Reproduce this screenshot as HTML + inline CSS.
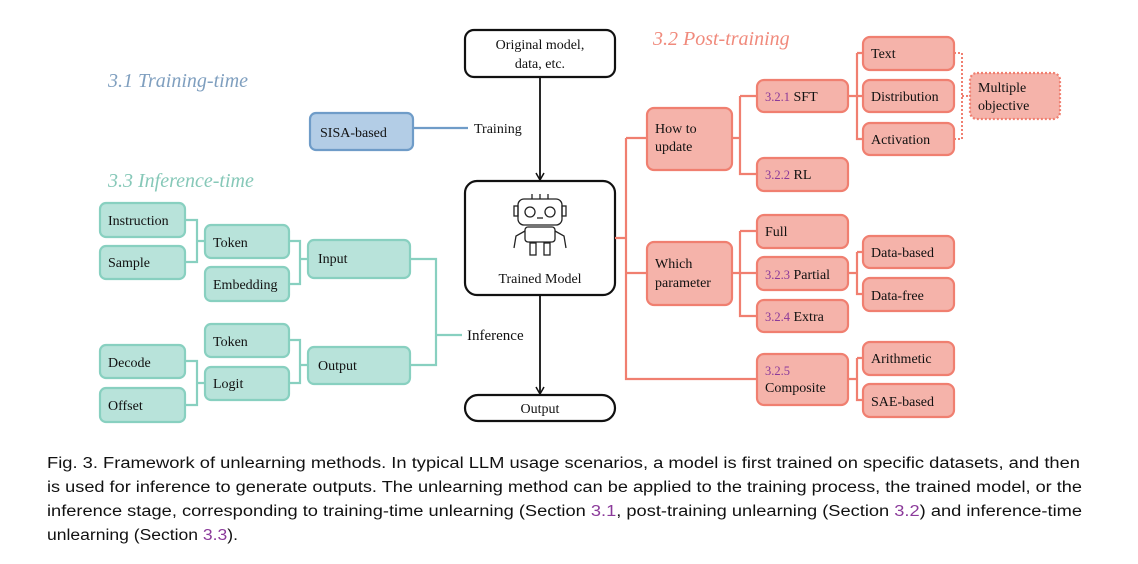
<!DOCTYPE html>
<html><head><meta charset="utf-8"><style>
body{margin:0;background:#fff;width:1138px;height:564px;overflow:hidden}
svg{display:block}
.s{font-family:"Liberation Serif",serif;font-size:14px;fill:#111}
.r rect{fill:#f5b3aa;stroke:#f07f70;stroke-width:2.2}
.g rect{fill:#b8e3da;stroke:#88d0c0;stroke-width:2.2}
.rl{stroke:#f07f70;stroke-width:2.2;fill:none}
.gl{stroke:#88d0c0;stroke-width:2.2;fill:none}
.p{fill:#8b3a9a}
.c{font-family:"Liberation Sans",sans-serif;font-size:15.5px;fill:#111}
</style></head><body>
<svg width="1138" height="564" viewBox="0 0 1138 564">
<defs><marker id="a" markerWidth="10" markerHeight="10" refX="8" refY="5" orient="auto" markerUnits="userSpaceOnUse"><path d="M1,1 L8,5 L1,9" fill="none" stroke="#111" stroke-width="1.5"/></marker></defs>
<!-- headings -->
<text x="108" y="87" font-family="Liberation Serif,serif" font-style="italic" font-size="20" fill="#7f9fbf">3.1 Training-time</text>
<text x="108" y="187" font-family="Liberation Serif,serif" font-style="italic" font-size="20" fill="#86c8b8">3.3 Inference-time</text>
<text x="653" y="45" font-family="Liberation Serif,serif" font-style="italic" font-size="20" fill="#f08a7c">3.2 Post-training</text>
<!-- center -->
<rect x="465" y="30" width="150" height="47" rx="9" fill="#fff" stroke="#111" stroke-width="2.2"/>
<text class="s" x="540" y="49" text-anchor="middle" font-size="15">Original model,</text>
<text class="s" x="540" y="68" text-anchor="middle" font-size="15">data, etc.</text>
<line x1="540" y1="77" x2="540" y2="180" stroke="#111" stroke-width="1.8" marker-end="url(#a)"/>
<rect x="465" y="181" width="150" height="114" rx="12" fill="#fff" stroke="#111" stroke-width="2.2"/>
<text class="s" x="540" y="283" text-anchor="middle" font-size="16">Trained Model</text>
<g fill="none" stroke="#222" stroke-width="1.3">
<rect x="518" y="199" width="44" height="26" rx="6"/>
<circle cx="530" cy="212" r="5"/><circle cx="550" cy="212" r="5"/><line x1="537" y1="218" x2="543" y2="218"/>
<line x1="532" y1="194" x2="532" y2="199"/><line x1="540" y1="194" x2="540" y2="199"/><line x1="548" y1="194" x2="548" y2="199"/>
<rect x="514" y="206" width="4" height="10"/><rect x="562" y="206" width="4" height="10"/>
<rect x="525" y="227" width="30" height="15" rx="3"/>
<path d="M525,231 L516,236 L514,248"/><path d="M555,231 L564,236 L566,248"/>
<rect x="530" y="243" width="6" height="12"/><rect x="544" y="243" width="6" height="12"/>
</g>
<line x1="540" y1="295" x2="540" y2="394" stroke="#111" stroke-width="1.8" marker-end="url(#a)"/>
<rect x="465" y="395" width="150" height="26" rx="13" fill="#fff" stroke="#111" stroke-width="2.2"/>
<text class="s" x="540" y="413" text-anchor="middle" font-size="15">Output</text>
<!-- training -->
<rect x="310" y="113" width="103" height="37" rx="6" fill="#b3cde6" stroke="#6f9cc8" stroke-width="2.2"/>
<text class="s" x="320" y="137">SISA-based</text>
<line x1="413" y1="128" x2="468" y2="128" stroke="#6f9cc8" stroke-width="2.2"/>
<text class="s" x="474" y="133" font-size="15">Training</text>
<!-- inference -->
<g class="g">
<rect x="100" y="203" width="85" height="34" rx="6"/><rect x="100" y="246" width="85" height="33" rx="6"/>
<rect x="205" y="225" width="84" height="33" rx="6"/><rect x="205" y="267" width="84" height="34" rx="6"/>
<rect x="308" y="240" width="102" height="38" rx="6"/>
<rect x="205" y="324" width="84" height="33" rx="6"/><rect x="205" y="367" width="84" height="33" rx="6"/>
<rect x="100" y="345" width="85" height="33" rx="6"/><rect x="100" y="388" width="85" height="34" rx="6"/>
<rect x="308" y="347" width="102" height="37" rx="6"/>
</g>
<path class="gl" d="M185,220 H197 V262 H185 M197,241 H205 M289,241 H300 V284 H289 M300,259 H308 M185,361 H197 V405 H185 M197,383 H205 M289,340 H300 V383 H289 M300,365 H308 M410,259 H436 V365 H410 M436,335 H462"/>
<g class="s">
<text x="108" y="225">Instruction</text><text x="108" y="267">Sample</text>
<text x="213" y="247">Token</text><text x="213" y="289">Embedding</text>
<text x="318" y="263">Input</text>
<text x="213" y="346">Token</text><text x="213" y="388">Logit</text>
<text x="108" y="367">Decode</text><text x="108" y="410">Offset</text>
<text x="318" y="370">Output</text>
<text x="467" y="340" font-size="15">Inference</text>
</g>
<!-- post-training -->
<path class="rl" d="M615,238 H626 M626,138 V379 H757 M626,138 H647 M626,273 H647 M732,138 H740 M740,96 V174 H757 M740,96 H757 M848,96 H857 M857,53 V139 H863 M857,53 H863 M857,96 H863 M732,273 H757 M740,231 V316 H757 M740,231 H757 M848,273 H857 M857,252 V294 H863 M857,252 H863 M848,379 H857 M857,358 V400 H863 M857,358 H863"/>
<path d="M954,53 H962 V139 H954 M962,96 H970" fill="none" stroke="#f07f70" stroke-width="2" stroke-dasharray="2,2"/>
<g class="r">
<rect x="647" y="108" width="85" height="62" rx="7"/>
<rect x="647" y="242" width="85" height="63" rx="7"/>
<rect x="757" y="80" width="91" height="32" rx="7"/><rect x="757" y="158" width="91" height="33" rx="7"/>
<rect x="863" y="37" width="91" height="33" rx="7"/><rect x="863" y="80" width="91" height="32" rx="7"/><rect x="863" y="123" width="91" height="32" rx="7"/>
<rect x="757" y="215" width="91" height="33" rx="7"/><rect x="757" y="257" width="91" height="33" rx="7"/><rect x="757" y="300" width="91" height="32" rx="7"/>
<rect x="863" y="236" width="91" height="32" rx="7"/><rect x="863" y="278" width="91" height="33" rx="7"/>
<rect x="757" y="354" width="91" height="51" rx="7"/>
<rect x="863" y="342" width="91" height="33" rx="7"/><rect x="863" y="384" width="91" height="33" rx="7"/>
</g>
<rect x="970" y="73" width="90" height="46" rx="7" fill="#f5b3aa" stroke="#f07f70" stroke-width="2.2" stroke-dasharray="2,2"/>
<g class="s">
<text x="655" y="133">How to</text><text x="655" y="151">update</text>
<text x="655" y="268">Which</text><text x="655" y="287">parameter</text>
<text x="765" y="101"><tspan class="p" font-size="12.5">3.2.1</tspan> SFT</text>
<text x="765" y="179"><tspan class="p" font-size="12.5">3.2.2</tspan> RL</text>
<text x="871" y="58">Text</text><text x="871" y="101">Distribution</text><text x="871" y="144">Activation</text>
<text x="978" y="92">Multiple</text><text x="978" y="110">objective</text>
<text x="765" y="236">Full</text>
<text x="765" y="279"><tspan class="p" font-size="12.5">3.2.3</tspan> Partial</text>
<text x="765" y="321"><tspan class="p" font-size="12.5">3.2.4</tspan> Extra</text>
<text x="871" y="257">Data-based</text><text x="871" y="300">Data-free</text>
<text x="765" y="375" class="p" font-size="12.5">3.2.5</text><text x="765" y="392">Composite</text>
<text x="871" y="363">Arithmetic</text><text x="871" y="406">SAE-based</text>
</g>
<!-- caption -->
<g class="c">
<text x="47" y="468" textLength="1033" lengthAdjust="spacingAndGlyphs">Fig. 3.  Framework of unlearning methods. In typical LLM usage scenarios, a model is first trained on specific datasets, and then</text>
<text x="47" y="492" textLength="1035" lengthAdjust="spacingAndGlyphs">is used for inference to generate outputs. The unlearning method can be applied to the training process, the trained model, or the</text>
<text x="47" y="516" textLength="1035" lengthAdjust="spacingAndGlyphs">inference stage, corresponding to training-time unlearning (Section <tspan class="p">3.1</tspan>, post-training unlearning (Section <tspan class="p">3.2</tspan>) and inference-time</text>
<text x="47" y="540" textLength="191" lengthAdjust="spacingAndGlyphs">unlearning (Section <tspan class="p">3.3</tspan>).</text>
</g>
</svg>
</body></html>
